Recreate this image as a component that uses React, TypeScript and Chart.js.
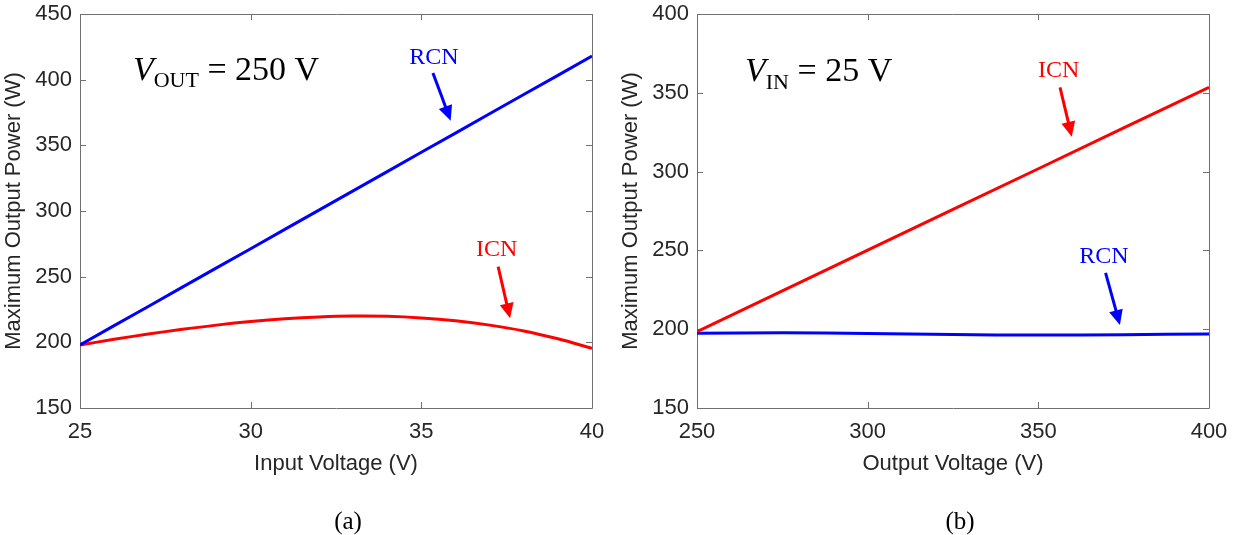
import React, { useEffect, useRef } from 'react';
import { Chart, registerables } from 'chart.js';

Chart.register(...registerables);

// ---------- Data: panel (a) ----------
const inputVoltage = [25, 26, 27, 28, 29, 30, 31, 32, 33, 34, 35, 36, 37, 38, 39, 40];
const rcnPowerA = [198, 212.7, 227.3, 242, 256.7, 271.3, 286, 300.7, 315.3, 330, 344.7, 359.3, 374, 388.7, 403.3, 418];
const icnPowerA = [198, 202.3, 206.3, 209.9, 213.1, 215.8, 217.9, 219.3, 220, 219.8, 218.6, 216.4, 213.1, 208.7, 202.7, 195.5];
const xTicksA = [25, 30, 35, 40];
const yTicksA = [150, 200, 250, 300, 350, 400, 450];

// ---------- Data: panel (b) ----------
const outputVoltage = [250, 275, 300, 325, 350, 375, 400];
const icnPowerB = [198.5, 224.3, 250.2, 276, 301.8, 327.7, 353.5];
const rcnPowerB = [197.5, 197.7, 197.2, 196.6, 196.3, 196.5, 197];
const xTicksB = [250, 300, 350, 400];
const yTicksB = [150, 200, 250, 300, 350, 400];

// ---------- Annotations (data coordinates) ----------
const BLUE = '#0000ff';
const RED = '#ff0000';

type Part = { t: string; size: number; italic?: boolean; dy?: number };
type Ann =
  | { kind: 'rich'; x: number; y: number; color: string; parts: Part[] }
  | { kind: 'label'; x: number; y: number; color: string; text: string; size: number }
  | { kind: 'arrow'; from: [number, number]; to: [number, number]; color: string };

const annotationsA: Ann[] = [
  {
    kind: 'rich', x: 26.55, y: 400, color: '#000000',
    parts: [
      { t: 'V', size: 34, italic: true },
      { t: 'OUT', size: 22, dy: 7 },
      { t: ' = 250 V', size: 34 },
    ],
  },
  { kind: 'label', x: 35.37, y: 411.9, color: BLUE, text: 'RCN', size: 24 },
  { kind: 'arrow', from: [35.34, 405.1], to: [35.86, 368.8], color: BLUE },
  { kind: 'label', x: 37.21, y: 265.7, color: RED, text: 'ICN', size: 24 },
  { kind: 'arrow', from: [37.25, 257.6], to: [37.6, 218.3], color: RED },
];

const annotationsB: Ann[] = [
  {
    kind: 'rich', x: 264.06, y: 357.5, color: '#000000',
    parts: [
      { t: 'V', size: 34, italic: true },
      { t: 'IN', size: 22, dy: 8 },
      { t: ' = 25 V', size: 34 },
    ],
  },
  { kind: 'label', x: 355.97, y: 360.2, color: RED, text: 'ICN', size: 24 },
  { kind: 'arrow', from: [356.35, 353.5], to: [359.8, 322.1], color: RED },
  { kind: 'label', x: 369.2, y: 242.2, color: BLUE, text: 'RCN', size: 24 },
  { kind: 'arrow', from: [369.7, 235.8], to: [373.9, 202.7], color: BLUE },
];

const SANS = "'Liberation Sans', Arial, Helvetica, sans-serif";
const SERIF = "'Liberation Serif', 'Times New Roman', serif";
const TEXT = '#262626';
const FRAME = '#707070';

const framePlugin = {
  id: 'matlabFrame',
  beforeDatasetsDraw(chart: any) {
    const { ctx, chartArea: a, scales } = chart;
    ctx.save();
    ctx.strokeStyle = FRAME;
    ctx.lineWidth = 1;
    ctx.beginPath();
    ctx.rect(Math.round(a.left) + 0.5, Math.round(a.top) + 0.5, Math.round(a.right - a.left), Math.round(a.bottom - a.top));
    ctx.stroke();
    const tl = 6;
    ctx.beginPath();
    for (const t of scales.x.ticks) {
      const px = Math.round(scales.x.getPixelForValue(t.value)) + 0.5;
      ctx.moveTo(px, a.bottom);
      ctx.lineTo(px, a.bottom - tl);
      ctx.moveTo(px, a.top);
      ctx.lineTo(px, a.top + tl);
    }
    for (const t of scales.y.ticks) {
      const py = Math.round(scales.y.getPixelForValue(t.value)) + 0.5;
      ctx.moveTo(a.left, py);
      ctx.lineTo(a.left + tl, py);
      ctx.moveTo(a.right, py);
      ctx.lineTo(a.right - tl, py);
    }
    ctx.stroke();
    ctx.restore();
  },
};

const annotationPlugin = {
  id: 'annotations',
  afterDatasetsDraw(chart: any, _args: any, opts: any) {
    const anns: Ann[] = opts.items || [];
    const { ctx, scales } = chart;
    const X = (v: number) => scales.x.getPixelForValue(v);
    const Y = (v: number) => scales.y.getPixelForValue(v);
    ctx.save();
    for (const an of anns) {
      if (an.kind === 'rich') {
        let px = X(an.x);
        const py = Y(an.y);
        ctx.fillStyle = an.color;
        ctx.textBaseline = 'alphabetic';
        ctx.textAlign = 'left';
        for (const p of an.parts) {
          ctx.font = `${p.italic ? 'italic ' : ''}${p.size}px ${SERIF}`;
          ctx.fillText(p.t, px, py + (p.dy || 0));
          px += ctx.measureText(p.t).width;
        }
      } else if (an.kind === 'label') {
        ctx.fillStyle = an.color;
        ctx.font = `${an.size}px ${SERIF}`;
        ctx.textAlign = 'center';
        ctx.textBaseline = 'alphabetic';
        ctx.fillText(an.text, X(an.x), Y(an.y));
      } else {
        const x0 = X(an.from[0]);
        const y0 = Y(an.from[1]);
        const x1 = X(an.to[0]);
        const y1 = Y(an.to[1]);
        const ang = Math.atan2(y1 - y0, x1 - x0);
        const head = 15;
        const hw = 7;
        const bx = x1 - head * Math.cos(ang);
        const by = y1 - head * Math.sin(ang);
        ctx.strokeStyle = an.color;
        ctx.fillStyle = an.color;
        ctx.lineWidth = 3;
        ctx.beginPath();
        ctx.moveTo(x0, y0);
        ctx.lineTo(bx + Math.cos(ang), by + Math.sin(ang));
        ctx.stroke();
        ctx.beginPath();
        ctx.moveTo(x1, y1);
        ctx.lineTo(bx + hw * Math.sin(ang), by - hw * Math.cos(ang));
        ctx.lineTo(bx - hw * Math.sin(ang), by + hw * Math.cos(ang));
        ctx.closePath();
        ctx.fill();
      }
    }
    ctx.restore();
  },
};

type PanelProps = {
  xs: number[];
  series: { label: string; values: number[]; color: string; curve: boolean }[];
  xTicks: number[];
  yTicks: number[];
  xTitle: string;
  anns: Ann[];
};

function Panel({ xs, series, xTicks, yTicks, xTitle, anns }: PanelProps) {
  const ref = useRef<HTMLCanvasElement | null>(null);
  useEffect(() => {
    if (!ref.current) return;
    const chart = new Chart(ref.current, {
      type: 'line',
      data: {
        datasets: series.map((s) => ({
          label: s.label,
          data: xs.map((x, i) => ({ x, y: s.values[i] })),
          borderColor: s.color,
          backgroundColor: s.color,
          borderWidth: 3,
          pointRadius: 0,
          fill: false,
          cubicInterpolationMode: 'default',
          tension: s.curve ? 0.4 : 0,
        })),
      },
      options: {
        animation: false,
        responsive: false,
        devicePixelRatio: 1,
        events: [],
        layout: { padding: { top: 14, right: 25, left: 0, bottom: 0 } },
        plugins: {
          legend: { display: false },
          tooltip: { enabled: false },
          annotations: { items: anns },
        } as any,
        scales: {
          x: {
            type: 'linear',
            min: xTicks[0],
            max: xTicks[xTicks.length - 1],
            grid: { display: false, drawTicks: false },
            border: { display: false },
            ticks: {
              padding: 11,
              color: TEXT,
              font: { family: SANS, size: 22 },
              maxRotation: 0,
            },
            afterBuildTicks: (s: any) => {
              s.ticks = xTicks.map((v) => ({ value: v }));
            },
            afterFit: (s: any) => {
              s.height = 127;
              s.paddingLeft = 0;
              s.paddingRight = 0;
              s.paddingTop = 0;
              s.paddingBottom = 0;
            },
            title: {
              display: true,
              text: xTitle,
              color: TEXT,
              font: { family: SANS, size: 22 },
              padding: { top: 0, bottom: 58 },
            },
          },
          y: {
            type: 'linear',
            min: yTicks[0],
            max: yTicks[yTicks.length - 1],
            grid: { display: false, drawTicks: false },
            border: { display: false },
            ticks: {
              padding: 8,
              color: TEXT,
              font: { family: SANS, size: 22 },
            },
            afterBuildTicks: (s: any) => {
              s.ticks = yTicks.map((v) => ({ value: v }));
            },
            afterFit: (s: any) => {
              s.width = 80;
              s.paddingLeft = 0;
              s.paddingRight = 0;
              s.paddingTop = 0;
              s.paddingBottom = 0;
            },
            title: {
              display: true,
              text: 'Maximum Output Power (W)',
              color: TEXT,
              font: { family: SANS, size: 22 },
              padding: { top: 1, bottom: 0 },
            },
          },
        },
      } as any,
      plugins: [framePlugin, annotationPlugin],
    });
    return () => chart.destroy();
  }, []);
  return <canvas ref={ref} width={617} height={535} style={{ display: 'block', width: 617, height: 535 }} />;
}

export default function App() {
  return (
    <div style={{ position: 'absolute', left: 0, top: 0, width: 1234, height: 535, background: '#fff', overflow: 'hidden' }}>
      <div style={{ position: 'absolute', left: 0, top: 0 }}>
        <Panel
          xs={inputVoltage}
          series={[
            { label: 'RCN', values: rcnPowerA, color: BLUE, curve: false },
            { label: 'ICN', values: icnPowerA, color: RED, curve: true },
          ]}
          xTicks={xTicksA}
          yTicks={yTicksA}
          xTitle="Input Voltage (V)"
          anns={annotationsA}
        />
      </div>
      <div style={{ position: 'absolute', left: 617, top: 0 }}>
        <Panel
          xs={outputVoltage}
          series={[
            { label: 'ICN', values: icnPowerB, color: RED, curve: false },
            { label: 'RCN', values: rcnPowerB, color: BLUE, curve: true },
          ]}
          xTicks={xTicksB}
          yTicks={yTicksB}
          xTitle="Output Voltage (V)"
          anns={annotationsB}
        />
      </div>
      <div style={{ position: 'absolute', left: 348, top: 520, transform: 'translate(-50%, -50%)', fontFamily: SERIF, fontSize: 25, color: '#000', whiteSpace: 'nowrap', lineHeight: 1 }}>(a)</div>
      <div style={{ position: 'absolute', left: 960, top: 520, transform: 'translate(-50%, -50%)', fontFamily: SERIF, fontSize: 25, color: '#000', whiteSpace: 'nowrap', lineHeight: 1 }}>(b)</div>
    </div>
  );
}
